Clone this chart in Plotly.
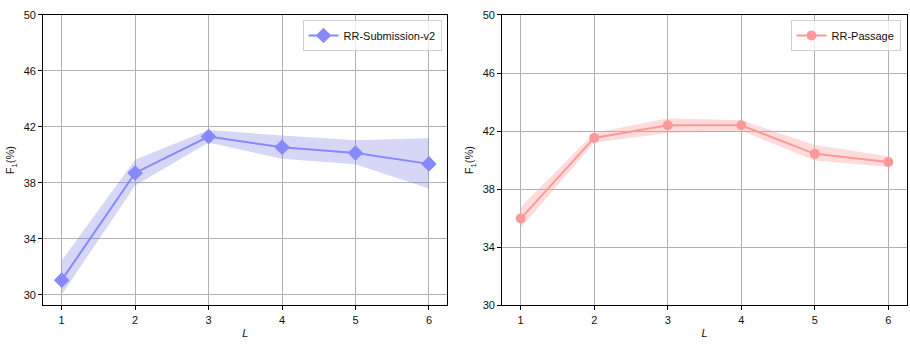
import plotly.graph_objects as go

L = [1, 2, 3, 4, 5, 6]
sub_mean = [31.05, 38.71, 41.31, 40.55, 40.14, 39.36]
sub_upper = [32.45, 39.65, 41.78, 41.38, 41.05, 41.2]
sub_lower = [30.0, 37.82, 40.88, 39.72, 39.33, 37.6]
pas_mean = [35.97, 41.53, 42.4, 42.4, 40.43, 39.87]
pas_upper = [36.77, 41.86, 42.88, 42.75, 41.04, 40.27]
pas_lower = [35.32, 41.2, 41.86, 42.02, 39.98, 39.53]
y_ticks = [30, 34, 38, 42, 46, 50]

FONT = "Liberation Sans, Arial, sans-serif"
W, H = 910, 345

fig = go.Figure()

# left panel
fig.add_trace(go.Scatter(x=L + L[::-1], y=sub_upper + sub_lower[::-1], fill="toself", mode="lines",
                         fillcolor="rgba(119,119,230,0.30)", line=dict(width=0),
                         hoverinfo="skip", showlegend=False, xaxis="x", yaxis="y"))
fig.add_trace(go.Scatter(x=L, y=sub_mean, mode="lines+markers", name="RR-Submission-v2",
                         line=dict(color="#8888FF", width=2),
                         marker=dict(symbol="diamond", size=12, color="#8888FF"),
                         xaxis="x", yaxis="y", legend="legend"))
# right panel
fig.add_trace(go.Scatter(x=L + L[::-1], y=pas_upper + pas_lower[::-1], fill="toself", mode="lines",
                         fillcolor="rgba(255,150,150,0.33)", line=dict(width=0),
                         hoverinfo="skip", showlegend=False, xaxis="x2", yaxis="y2"))
fig.add_trace(go.Scatter(x=L, y=pas_mean, mode="lines+markers", name="RR-Passage",
                         line=dict(color="#FF9999", width=2),
                         marker=dict(symbol="circle", size=10, color="#FF9999"),
                         xaxis="x2", yaxis="y2", legend="legend2"))

def xax(dom, anchor):
    return dict(domain=dom, anchor=anchor, range=[0.75, 6.25], tickvals=L,
                showline=True, linecolor="black", linewidth=1.2, mirror=True,
                ticks="outside", ticklen=4, tickcolor="black",
                showgrid=True, gridcolor="#b0b0b0", gridwidth=1, zeroline=False,
                tickfont=dict(size=11, color="#111"),
                title=dict(text="<i>L</i>", font=dict(size=11, color="#111"), standoff=4))

def yax(dom, anchor, rng):
    return dict(domain=dom, anchor=anchor, range=rng, tickvals=y_ticks,
                showline=True, linecolor="black", linewidth=1.2, mirror=True,
                ticks="outside", ticklen=4, tickcolor="black",
                showgrid=True, gridcolor="#b0b0b0", gridwidth=1, zeroline=False,
                tickfont=dict(size=11, color="#111"),
                title=dict(text="F<sub>1</sub>(%)", font=dict(size=11, color="#111"), standoff=6))

ydom = [1 - 310 / H, 1 - 9.3 / H]
fig.update_layout(
    width=W, height=H, margin=dict(l=0, r=0, t=0, b=0),
    paper_bgcolor="white", plot_bgcolor="white",
    font=dict(family=FONT, size=11, color="#111"),
    xaxis=xax([43.3 / W, 447.3 / W], "y"),
    yaxis=yax(ydom, "x", [29.26, 50]),
    xaxis2=xax([502.3 / W, 906.7 / W], "y2"),
    yaxis2=yax(ydom, "x2", [30, 50]),
    legend=dict(x=441.5 / W, y=1 - 14.5 / H, xanchor="right", yanchor="top",
                bgcolor="rgba(255,255,255,0.8)", bordercolor="#d0d0d0", borderwidth=1,
                font=dict(size=11, color="#111")),
    legend2=dict(x=900.5 / W, y=1 - 14.5 / H, xanchor="right", yanchor="top",
                 bgcolor="rgba(255,255,255,0.8)", bordercolor="#d0d0d0", borderwidth=1,
                 font=dict(size=11, color="#111")),
    showlegend=True,
)

fig.write_html("out.html")
